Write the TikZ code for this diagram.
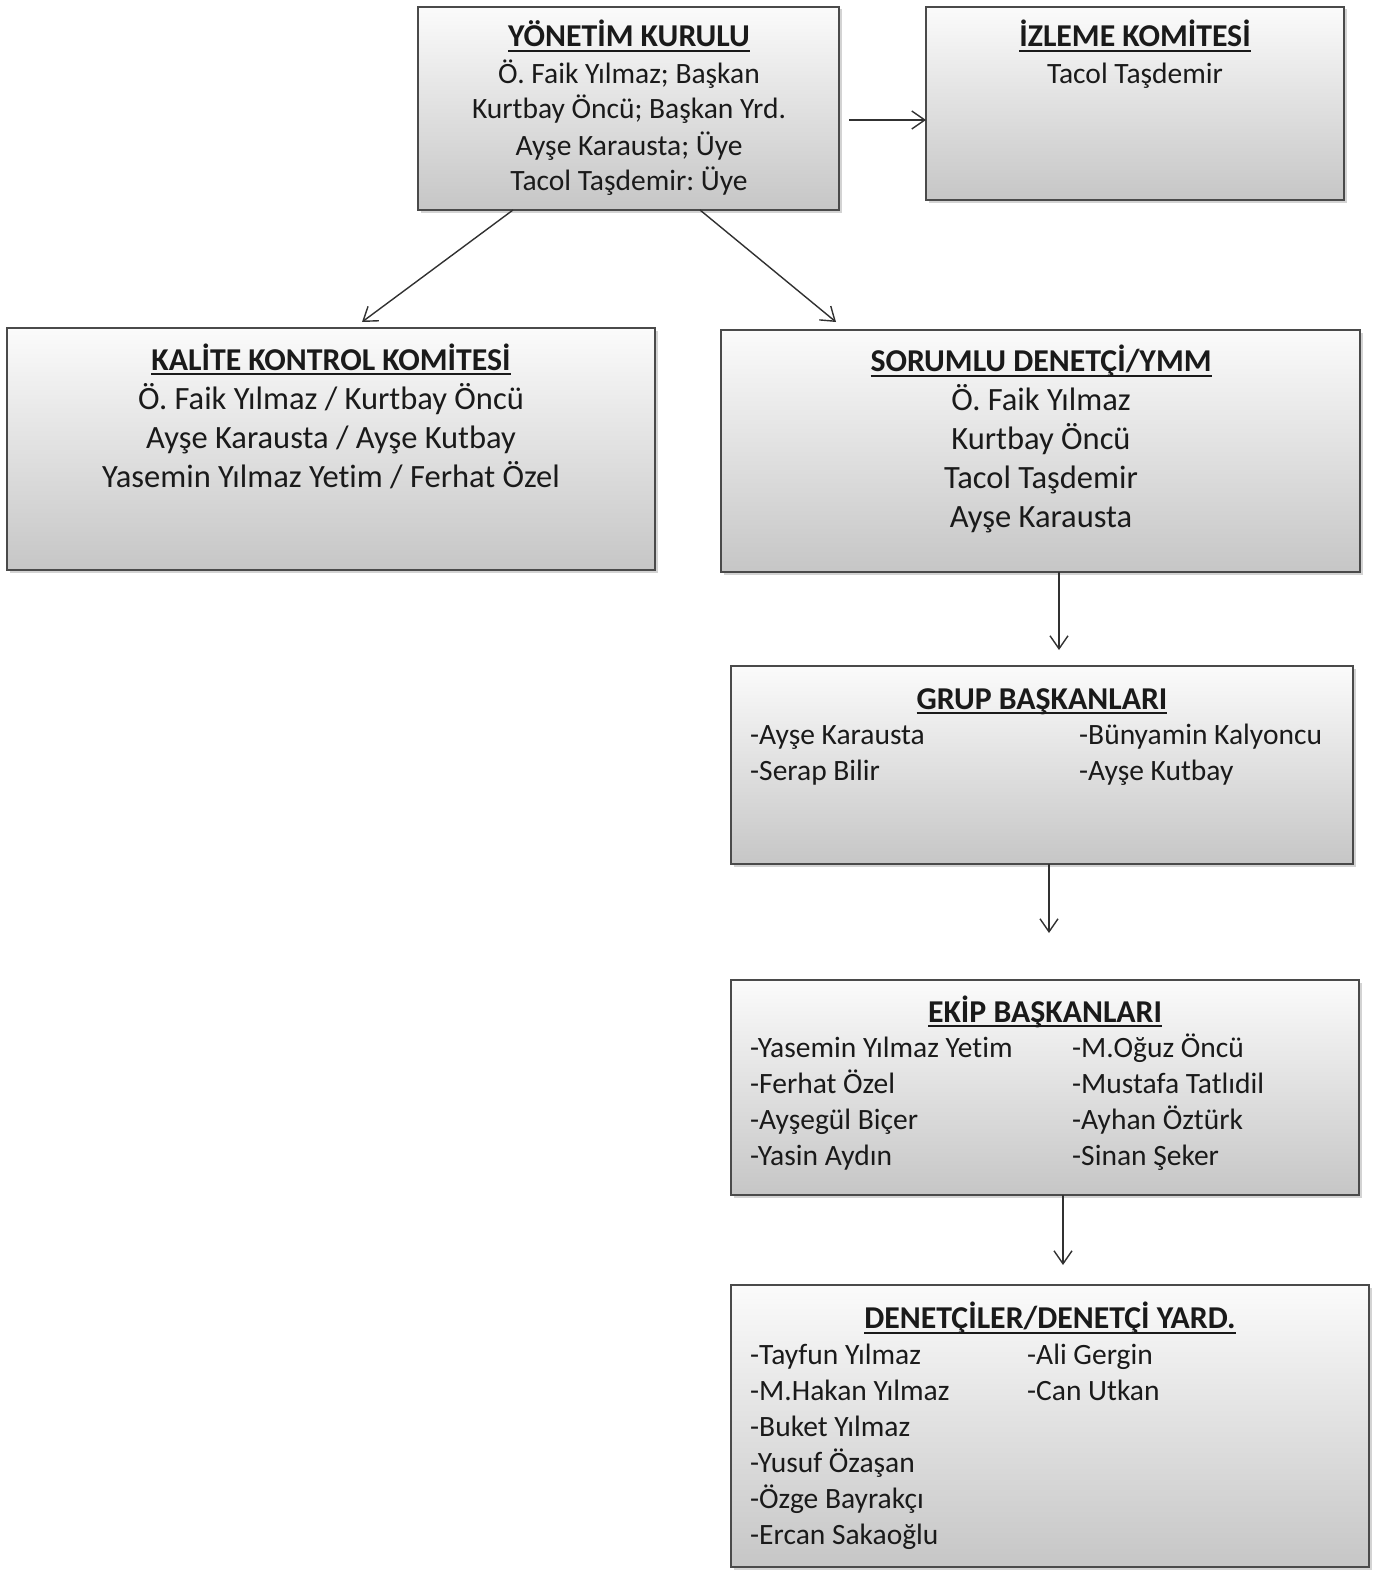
\documentclass[tikz,border=0pt]{standalone}
\usepackage{fontspec}
\setmainfont{Carlito}[Ligatures={NoCommon}]
\usetikzlibrary{arrows.meta,shadows,calc}
\frenchspacing
\definecolor{ink}{HTML}{1A1A1A}
\definecolor{edge}{HTML}{4A4A4A}
\definecolor{boxtop}{HTML}{FBFBFB}
\definecolor{boxbot}{HTML}{C6C6C6}
\newcommand\ttlu[1]{\setbox0\hbox{\fontsize{31.8}{36}\selectfont\bfseries #1}\rlap{\rule[-5pt]{\wd0}{1.7pt}}\box0}
\newcommand\setstrut[2]{\setbox\strutbox\hbox{\vrule height #1 depth #2 width 0pt}}
\begin{document}
\begin{tikzpicture}[x=1pt,y=-1pt,
  box/.style={draw=edge, line width=1.3pt, top color=boxtop, bottom color=boxbot,
    drop shadow={shadow xshift=2.5pt, shadow yshift=-2.5pt, opacity=0.35},
    anchor=north west, inner sep=0pt, outer sep=0pt},
  txt/.style={anchor=base, inner sep=0pt, text=ink},
  col/.style={anchor=base west, inner sep=0pt, text=ink},
  conn/.style={draw=ink!90, line width=1.4pt, -{Straight Barb[length=13pt,width=18pt,line width=1.4pt]}},
  fA/.style={font=\fontsize{29.5}{36}\selectfont\setstrut{28pt}{8pt}},
  fB/.style={font=\fontsize{32.5}{39}\selectfont\setstrut{30pt}{9pt}}
]
\useasboundingbox (0,0) rectangle (1381,1571);

% boxes
\node[box, minimum width=421pt, minimum height=203pt] (yk) at (418,7) {};
\node[box, minimum width=418pt, minimum height=193pt] (ik) at (926,7) {};
\node[box, minimum width=648pt, minimum height=242pt] (kk) at (7,328) {};
\node[box, minimum width=639pt, minimum height=242pt] (sd) at (721,330) {};
\node[box, minimum width=622pt, minimum height=198pt] (gb) at (731,666) {};
\node[box, minimum width=628pt, minimum height=215pt] (eb) at (731,980) {};
\node[box, minimum width=638pt, minimum height=282pt] (dd) at (731,1285) {};

% texts
\node[txt, fA] (ykt) at (629,47) {\begin{tabular}[t]{@{}c@{}}\ttlu{YÖNETİM KURULU}\\
  Ö. Faik Yılmaz; Başkan\\ Kurtbay Öncü; Başkan Yrd.\\ Ayşe Karausta; Üye\\ Tacol Taşdemir: Üye\end{tabular}};
\node[txt, fA] (ikt) at (1135,47) {\begin{tabular}[t]{@{}c@{}}\ttlu{İZLEME KOMİTESİ}\\ Tacol Taşdemir\end{tabular}};
\node[txt, fB] (kkt) at (331,370) {\begin{tabular}[t]{@{}c@{}}\ttlu{KALİTE KONTROL KOMİTESİ}\\
  Ö. Faik Yılmaz / Kurtbay Öncü\\ Ayşe Karausta / Ayşe Kutbay\\ Yasemin Yılmaz Yetim / Ferhat Özel\end{tabular}};
\node[txt, fB] (sdt) at (1041,371.5) {\begin{tabular}[t]{@{}c@{}}\ttlu{SORUMLU DENETÇİ/YMM}\\
  Ö. Faik Yılmaz\\ Kurtbay Öncü\\ Tacol Taşdemir\\ Ayşe Karausta\end{tabular}};

\node[txt, fA] (gbt) at (1042,709) {\ttlu{GRUP BAŞKANLARI}};
\node[col, fA] (gbl) at (750,744.5) {\begin{tabular}[t]{@{}l@{}}-Ayşe Karausta\\ -Serap Bilir\end{tabular}};
\node[col, fA] (gbr) at (1079,744.5) {\begin{tabular}[t]{@{}l@{}}-Bünyamin Kalyoncu\\ -Ayşe Kutbay\end{tabular}};

\node[txt, fA] (ebt) at (1045,1022) {\ttlu{EKİP BAŞKANLARI}};
\node[col, fA] (ebl) at (750,1057.5) {\begin{tabular}[t]{@{}l@{}}-Yasemin Yılmaz Yetim\\ -Ferhat Özel\\ -Ayşegül Biçer\\ -Yasin Aydın\end{tabular}};
\node[col, fA] (ebr) at (1072,1057.5) {\begin{tabular}[t]{@{}l@{}}-M.Oğuz Öncü\\ -Mustafa Tatlıdil\\ -Ayhan Öztürk\\ -Sinan Şeker\end{tabular}};

\node[txt, fA] (ddt) at (1050,1328.5) {\ttlu{DENETÇİLER/DENETÇİ YARD.}};
\node[col, fA] (ddl) at (750,1364) {\begin{tabular}[t]{@{}l@{}}-Tayfun Yılmaz\\ -M.Hakan Yılmaz\\ -Buket Yılmaz\\ -Yusuf Özaşan\\ -Özge Bayrakçı\\ -Ercan Sakaoğlu\end{tabular}};
\node[col, fA] (ddr) at (1027,1364) {\begin{tabular}[t]{@{}l@{}}-Ali Gergin\\ -Can Utkan\end{tabular}};

% connector ends
\coordinate (a1s) at (849,120);
\coordinate (a2s) at (513,210);
\coordinate (a2e) at (362,322);
\coordinate (a3s) at (700,210);
\coordinate (a3e) at (836,322);
\coordinate (a4e) at (1059,650);
\coordinate (a5e) at (1049,933);
\coordinate (a6e) at (1063,1265);

\draw[conn] (a1s) -- (a1s -| ik.west);
\draw[conn] (a2s |- yk.south) -- (a2e);
\draw[conn] (a3s |- yk.south) -- (a3e);
\draw[conn] (a4e |- sd.south) -- (a4e);
\draw[conn] (a5e |- gb.south) -- (a5e);
\draw[conn] (a6e |- eb.south) -- (a6e);
\end{tikzpicture}
\end{document}
